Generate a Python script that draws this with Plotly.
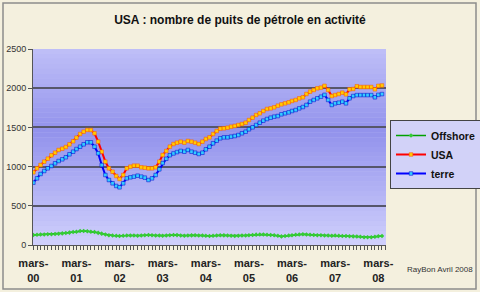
import plotly.graph_objects as go
import pandas as pd

# ---- data ----
months = [d.strftime("%Y-%m-%d") for d in pd.date_range("2000-03-01", periods=98, freq="MS")]

offshore = [
    128, 130, 133, 135, 136, 138, 140, 143, 148, 152,
    158, 165, 170, 178, 178, 175, 170, 165, 155, 145,
    135, 125, 120, 118, 116, 118, 120, 122, 120, 118,
    120, 125, 128, 125, 122, 120, 118, 120, 125, 128,
    126, 122, 118, 120, 123, 125, 122, 120, 118, 115,
    118, 122, 125, 123, 120, 118, 116, 118, 120, 122,
    125, 128, 132, 135, 133, 130, 128, 125, 118, 110,
    115, 120, 125, 130, 135, 138, 135, 130, 128, 125,
    125, 122, 120, 118, 120, 118, 115, 115, 112, 110,
    108, 105, 100, 98, 100, 105, 112, 115,
]

usa = [
    927, 978, 1020, 1063, 1101, 1144, 1177, 1212, 1228, 1250,
    1284, 1323, 1369, 1416, 1445, 1467, 1467, 1425, 1318, 1190,
    1063, 978, 935, 880, 842,
    893, 978, 999, 1012, 1012, 991, 986, 978, 978, 991,
    1063, 1148, 1199, 1254, 1288, 1305, 1318, 1305, 1327, 1318,
    1305, 1288, 1318, 1352,
    1373, 1416, 1454, 1484, 1488, 1496, 1509, 1518, 1531, 1543,
    1560, 1594, 1624, 1658, 1680, 1709, 1735, 1743, 1756, 1777,
    1794, 1807, 1820, 1837, 1850, 1871,
    1884, 1926, 1956, 1977, 1999, 2007, 2030, 1977, 1900, 1913,
    1926, 1943, 1922, 1986, 1990, 2025, 2015, 2015, 2015, 2015,
    1986, 2030, 2035,
]

terre = [
    795, 850, 906, 944, 978, 1008, 1042, 1071, 1093, 1119,
    1157, 1190, 1224, 1254, 1284, 1310, 1310, 1254, 1170, 1020,
    893, 829, 787, 753, 736,
    787, 850, 863, 872, 884, 872, 859, 829, 850, 893,
    965, 1045, 1100, 1145, 1168, 1185, 1200, 1190, 1212, 1190,
    1177, 1161, 1177, 1220,
    1254, 1297, 1331, 1361, 1373, 1373, 1382, 1390, 1403, 1425,
    1445, 1476, 1501, 1531, 1560, 1586, 1607, 1624, 1637, 1645,
    1667, 1680, 1692, 1709, 1722, 1743,
    1760, 1786, 1828, 1850, 1871, 1892, 1915, 1850, 1786, 1807,
    1815, 1828, 1807, 1871, 1900, 1912, 1912, 1912, 1912, 1912,
    1884, 1915, 1925,
]

tick_dates = ["2000-03-01", "2001-03-01", "2002-03-01", "2003-03-01", "2004-03-01",
              "2005-03-01", "2006-03-01", "2007-03-01", "2008-03-01"]
tick_text = ["mars-<br>00", "mars-<br>01", "mars-<br>02", "mars-<br>03", "mars-<br>04",
             "mars-<br>05", "mars-<br>06", "mars-<br>07", "mars-<br>08"]
y_ticks = [0, 500, 1000, 1500, 2000, 2500]

FONT = "Liberation Sans, Arial, sans-serif"

fig = go.Figure()
fig.add_trace(go.Scatter(
    x=months, y=offshore, name="Offshore", mode="lines+markers",
    line=dict(color="#00A000", width=1.5),
    marker=dict(symbol="diamond", size=3.5, color="#33CC33", line=dict(width=0)),
))
fig.add_trace(go.Scatter(
    x=months, y=usa, name="USA", mode="lines+markers",
    line=dict(color="#FF0000", width=2),
    marker=dict(symbol="square", size=3.6, color="#FFCC00", line=dict(color="#FF5500", width=0.5)),
))
fig.add_trace(go.Scatter(
    x=months, y=terre, name="terre", mode="lines+markers",
    line=dict(color="#0000FF", width=2),
    marker=dict(symbol="square", size=3.6, color="#33CCFF", line=dict(color="#0000CC", width=0.5)),
))

# gradient background of the plot area (stripes)
shapes = []
n = 40
light = (208, 208, 252)
dark = (146, 146, 236)
for k in range(n):
    t = (k + 0.5) / n  # 0 top -> 1 bottom
    w = max(0.0, 1 - abs(t - 0.42) / 0.58)
    c = tuple(int(round(light[j] + (dark[j] - light[j]) * w)) for j in range(3))
    shapes.append(dict(
        type="rect", xref="x domain", yref="y domain",
        x0=0, x1=1, y0=1 - (k + 1) / n, y1=1 - k / n,
        fillcolor="rgb(%d,%d,%d)" % c, line=dict(width=0), layer="below",
    ))
# outer border of the chart
shapes.append(dict(
    type="rect", xref="paper", yref="paper",
    x0=(3 - 33) / 353, x1=(476 - 33) / 353, y0=(245 - 289) / 196, y1=(245 - 3) / 196,
    line=dict(color="#8C8C8C", width=1.5), fillcolor="rgba(0,0,0,0)", layer="above",
))

fig.update_layout(
    width=480, height=292,
    margin=dict(l=33, r=94, t=49, b=47, autoexpand=False),
    paper_bgcolor="#F4F0DE",
    plot_bgcolor="#B8B8F4",
    font=dict(family=FONT, color="#222222"),
    title=dict(text="USA : nombre de puits de pétrole en activité",
               x=0.5, xanchor="center", y=1 - 20 / 292, yanchor="middle",
               font=dict(size=12, weight="bold", color="#111111", family=FONT)),
    showlegend=True,
    legend=dict(x=(481 - 33) / 353, xanchor="right", y=(245 - 120) / 196, yanchor="top",
                bgcolor="#D2D2F8", bordercolor="#444444", borderwidth=1,
                font=dict(size=10.5, weight="bold", color="#111111", family=FONT),
                itemwidth=30, tracegroupgap=0),
    shapes=shapes,
    annotations=[dict(text="RayBon Avril 2008", xref="paper", yref="paper",
                      x=(475 - 33) / 353, xanchor="right", y=(245 - 269) / 196, yanchor="middle",
                      showarrow=False, font=dict(size=8, color="#333333", family=FONT))],
)

fig.update_xaxes(
    type="date", range=["2000-02-27", "2008-05-05"], automargin=False,
    tickmode="array", tickvals=tick_dates, ticktext=tick_text,
    tickfont=dict(size=11, weight="bold", color="#222222", family=FONT),
    ticks="outside", ticklen=4, tickcolor="#555555",
    ticklabelstandoff=4,
    minor=dict(dtick="M1", ticks="outside", ticklen=4, tickcolor="#555555", showgrid=False),
    showline=True, linecolor="#555555", linewidth=1,
    showgrid=False, zeroline=False,
)
fig.update_yaxes(
    range=[0, 2500], tickmode="array", tickvals=y_ticks, automargin=False,
    tickfont=dict(size=9, color="#333333", family=FONT),
    ticks="outside", ticklen=4, tickcolor="#555555",
    showline=True, linecolor="#555555", linewidth=1,
    showgrid=True, gridcolor="#56566A", gridwidth=1.5,
    zeroline=False,
)

fig.write_html("out.html")
